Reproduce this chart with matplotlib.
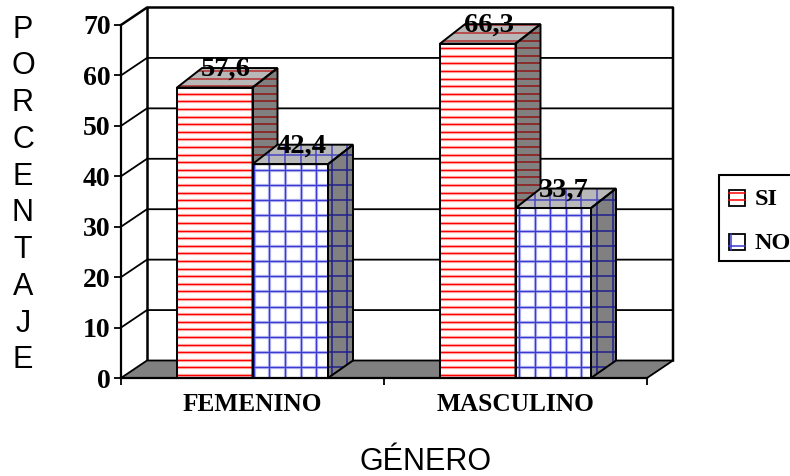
import matplotlib
matplotlib.use('Agg')
import matplotlib.pyplot as plt
from matplotlib.patches import Polygon, Rectangle
import numpy as np

categories = ['FEMENINO', 'MASCULINO']
si_values = [57.6, 66.3]
no_values = [42.4, 33.7]
series_names = ['SI', 'NO']
y_ticks = [0, 10, 20, 30, 40, 50, 60, 70]

W, H = 790, 476
SERIF = 'Liberation Serif'
SANS = 'Liberation Sans'

# front plane of the 3D box, in pixels
LEFT, RIGHT, BOTTOM, TOP = 121, 647, 378, 25
PX_X = 2 / (RIGHT - LEFT)
PX_Y = 70 / (BOTTOM - TOP)
WALL_DX = 26 * PX_X
WALL_DY = 17.5 * PX_Y
BAR_W = 75.5 * PX_X
BAR_DX = 25 * PX_X
BAR_DY_TOP = 19.5 * PX_Y
BAR_DY_BASE = 17.5 * PX_Y
LW = 1.4


def pattern(ax, verts, fill, line, halo=None, ystep=7.6, yphase=3, xstep=None, z=3):
    # fill a polygon and rule it with lines clipped to its outline
    poly = Polygon(verts, closed=True, facecolor=fill, edgecolor='none', zorder=z, clip_on=False)
    ax.add_patch(poly)
    xs = [v[0] for v in verts]
    ys = [v[1] for v in verts]
    layers = [(halo, 2.4), (line, 1.0)] if halo else [(line, 1.1)]
    for col, w in layers:
        yy = np.arange(0, max(ys) + 1, ystep * PX_Y) + yphase * PX_Y
        arts = [ax.hlines(yy, min(xs), max(xs), colors=col, linewidth=w, zorder=z + 0.1)]
        if xstep:
            xx = np.arange(0, 3, xstep * PX_X) + 7.9 * PX_X
            xx = xx[(xx > min(xs)) & (xx < max(xs))]
            arts.append(ax.vlines(xx, min(ys), max(ys), colors=col, linewidth=w, zorder=z + 0.1))
        for a in arts:
            a.set_clip_path(poly)
    ax.add_patch(Polygon(verts, closed=True, fill=False, edgecolor='black', linewidth=LW,
                         joinstyle='miter', zorder=z + 0.2, clip_on=False))


def bar3d(ax, x0, val, front, front_halo, top_col, side_col, xstep, z):
    x1 = x0 + BAR_W
    ystep = 7.6 if xstep is None else 15.2
    yphase = 3 if xstep is None else 10.7
    pattern(ax, [(x1, 0), (x1 + BAR_DX, BAR_DY_BASE), (x1 + BAR_DX, val + BAR_DY_TOP), (x1, val)],
            '#808080', side_col, ystep=ystep, yphase=yphase, xstep=xstep, z=z)
    pattern(ax, [(x0, val), (x0 + BAR_DX, val + BAR_DY_TOP), (x1 + BAR_DX, val + BAR_DY_TOP), (x1, val)],
            '#b8b8b8', top_col, ystep=ystep, yphase=yphase, xstep=xstep, z=z)
    pattern(ax, [(x0, 0), (x0, val), (x1, val), (x1, 0)],
            'white', front, halo=front_halo, ystep=ystep, yphase=yphase, xstep=xstep, z=z)


fig = plt.figure(figsize=(W / 100, H / 100), dpi=100)
ax = fig.add_axes([LEFT / W, 1 - BOTTOM / H, (RIGHT - LEFT) / W, (BOTTOM - TOP) / H])
ax.set_xlim(0, 2)
ax.set_ylim(0, 70)
ax.patch.set_visible(False)
for s in ['top', 'right']:
    ax.spines[s].set_visible(False)
for s in ['left', 'bottom']:
    ax.spines[s].set_linewidth(1.6)
    ax.spines[s].set_zorder(6)

# walls, floor and gridlines
ax.add_patch(Polygon([(0, 0), (WALL_DX, WALL_DY), (2 + WALL_DX, WALL_DY), (2, 0)], closed=True,
                     facecolor='#808080', edgecolor='black', linewidth=1.3, zorder=1.5, clip_on=False))
for t in y_ticks[1:-1]:
    ax.plot([0, WALL_DX, 2 + WALL_DX], [t, t + WALL_DY, t + WALL_DY], color='black',
            linewidth=1.3, zorder=1, clip_on=False)
ax.plot([0, WALL_DX, 2 + WALL_DX, 2 + WALL_DX], [70, 70 + WALL_DY, 70 + WALL_DY, WALL_DY],
        color='black', linewidth=1.8, zorder=1, clip_on=False)
ax.plot([WALL_DX, WALL_DX], [WALL_DY, 70 + WALL_DY], color='black', linewidth=1.8, zorder=1, clip_on=False)

# bars, drawn from the value lists
for i, cat in enumerate(categories):
    c = i + 0.5
    bar3d(ax, c - BAR_W, si_values[i], '#ff0000', '#ffc4c4', '#b83030', '#8c1414', None, 3)
    bar3d(ax, c, no_values[i], '#3a3ad0', '#c4c4f4', '#4848c0', '#20208c', 15.6, 4)
    ax.text(c - BAR_W / 2 + 11 * PX_X, si_values[i] + BAR_DY_TOP - 8 * PX_Y,
            str(si_values[i]).replace('.', ','), family=SERIF, weight='bold', fontsize=20.5,
            ha='center', va='baseline', zorder=8)
    ax.text(c + BAR_W / 2 + 11 * PX_X, no_values[i] + BAR_DY_TOP - 8 * PX_Y,
            str(no_values[i]).replace('.', ','), family=SERIF, weight='bold', fontsize=20.5,
            ha='center', va='baseline', zorder=8)

ax.set_yticks(y_ticks)
ax.set_xticks([0, 1, 2])
ax.set_xticklabels([])
ax.tick_params(axis='both', length=5, width=1.3, color='black')
ax.tick_params(axis='y', pad=2.5)
for lab in ax.get_yticklabels():
    lab.set_fontfamily(SERIF)
    lab.set_fontweight('bold')
    lab.set_fontsize(20)
for i, cat in enumerate(categories):
    ax.text(i + 0.5, -5.2, cat, family=SERIF, weight='bold', fontsize=18.3, ha='center', va='center')

# axis titles
fig.text(23 / W, 1 - 195 / H, '\n'.join('PORCENTAJE'), family=SANS, fontsize=22, ha='center',
         va='center', linespacing=1.294, multialignment='center')
fig.text(425.5 / W, 1 - 469.5 / H, 'GÉNERO', family=SANS, fontsize=22, ha='center', va='baseline')

# legend box runs off the right edge
lax = fig.add_axes([0, 0, 1, 1])
lax.set_xlim(0, W)
lax.set_ylim(H, 0)
lax.axis('off')
lax.add_patch(Rectangle((719, 175), 90, 85.5, facecolor='white', edgecolor='black', linewidth=1.5))
for name, ky, col, lines in [(series_names[0], 190, '#ff0000', [3.3, 10]),
                             (series_names[1], 234, '#3a3ad0', [12])]:
    lax.add_patch(Rectangle((729, ky), 16, 16, facecolor='white', edgecolor='none'))
    for dy in lines:
        lax.plot([729, 745], [ky + dy, ky + dy], color=col, linewidth=1.1)
    if name == 'NO':
        lax.plot([730.5, 730.5], [ky, ky + 16], color=col, linewidth=1.1)
    lax.add_patch(Rectangle((729, ky), 16, 16, fill=False, edgecolor='black', linewidth=1.3))
    lax.text(754.5, ky + 9.5, name, family=SERIF, weight='bold', fontsize=17.5, ha='left', va='center')

fig.savefig('out.png', dpi=100)
